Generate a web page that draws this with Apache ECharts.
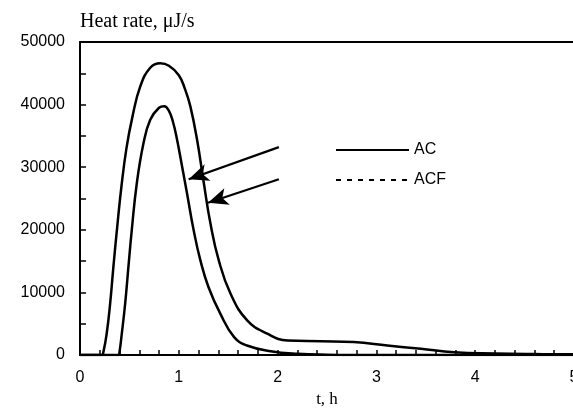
<!DOCTYPE html>
<html>
<head>
<meta charset="utf-8">
<script src="https://cdn.jsdelivr.net/npm/echarts@6/dist/echarts.min.js"></script>
<style>
  html, body { margin: 0; padding: 0; background: #fff; }
  #chart { width: 573px; height: 413px; }
</style>
</head>
<body>
<div id="chart"></div>
<script>
// time (h), heat rate (uJ/s)
const acTime = [0, 0.22, 0.237, 0.27, 0.305, 0.338, 0.38, 0.42, 0.47, 0.53, 0.61, 0.711, 0.812, 0.9, 1.0, 1.06, 1.117, 1.185, 1.252, 1.32, 1.404, 1.523, 1.692, 1.895, 2.1, 2.44, 2.77, 3.11, 3.45, 3.79, 4.2, 4.6, 5];
const acHeat = [0, 0, 500, 3400, 8200, 14080, 21000, 27000, 33000, 38000, 42900, 45880, 46600, 46200, 44700, 42600, 39720, 34380, 27600, 21030, 15150, 9810, 5530, 3400, 2320, 2200, 2060, 1520, 990, 450, 250, 150, 100];

const acfTime = [0, 0.39, 0.40, 0.423, 0.457, 0.49, 0.524, 0.575, 0.643, 0.711, 0.80, 0.853, 0.90, 0.94, 0.98, 1.03, 1.083, 1.15, 1.218, 1.30, 1.42, 1.56, 1.69, 1.93, 2.2, 2.5, 3, 4, 5];
const acfHeat = [0, 0, 500, 3400, 8200, 14080, 19960, 27440, 33860, 37590, 39500, 39750, 39000, 37300, 34600, 30400, 25840, 19960, 15150, 10870, 6600, 2850, 1520, 610, 190, 50, 0, 0, 0];

const xTicks = [0, 1, 2, 3, 4, 5];
const yTicks = [0, 10000, 20000, 30000, 40000, 50000];

const pair = (xs, ys) => xs.map((x, i) => [x, ys[i]]);

const labelFont = { fontFamily: 'Liberation Sans', fontSize: 16, color: '#000' };
const arrowStyle = { color: '#000', width: 2.2, type: 'solid' };

const chart = echarts.init(document.getElementById('chart'));
chart.setOption({
  animation: false,
  grid: { left: 80, right: -1, top: 42, bottom: 58, outerBoundsMode: 'none' },
  legend: {
    orient: 'vertical',
    left: 330,
    top: 137,
    itemWidth: 73,
    itemHeight: 14,
    itemGap: 14,
    textStyle: { fontFamily: 'Liberation Sans', fontSize: 16, color: '#000' },
    data: [
      { name: 'AC', itemStyle: { opacity: 0 }, lineStyle: { type: 'solid', width: 2 } },
      { name: 'ACF', itemStyle: { opacity: 0 }, lineStyle: { type: [5, 6], width: 2 } }
    ]
  },
  xAxis: [{
    type: 'value',
    min: xTicks[0],
    max: xTicks[xTicks.length - 1],
    interval: 1,
    name: 't, h',
    nameLocation: 'middle',
    nameGap: 36,
    nameTextStyle: { fontFamily: 'Liberation Serif', fontSize: 17, color: '#000' },
    axisLine: { lineStyle: { color: '#000', width: 2 } },
    axisTick: { inside: true, length: 5, lineStyle: { color: '#000', width: 1.5 } },
    minorTick: { show: true, splitNumber: 5, length: 5, lineStyle: { color: '#000', width: 1.5 } },
    axisLabel: { ...labelFont, margin: 15, formatter: v => String(v) },
    splitLine: { show: false }
  }, {
    type: 'value',
    position: 'top',
    min: 0,
    max: 5,
    interval: 1,
    axisLine: { show: true, onZero: false, lineStyle: { color: '#000', width: 2 } },
    axisTick: { show: false },
    axisLabel: { show: false },
    splitLine: { show: false }
  }],
  yAxis: {
    type: 'value',
    min: yTicks[0],
    max: yTicks[yTicks.length - 1],
    interval: 10000,
    name: 'Heat rate, μJ/s',
    nameLocation: 'end',
    nameGap: 10,
    nameTextStyle: {
      fontFamily: 'Liberation Serif', fontSize: 20, color: '#000',
      align: 'left', verticalAlign: 'bottom'
    },
    axisLine: { show: true, lineStyle: { color: '#000', width: 2 } },
    axisTick: { inside: true, length: 6, lineStyle: { color: '#000', width: 1.5 } },
    minorTick: { show: true, splitNumber: 2, length: 6, lineStyle: { color: '#000', width: 1.5 } },
    axisLabel: { ...labelFont, margin: 15, formatter: v => String(v) },
    splitLine: { show: false }
  },
  series: [
    {
      name: 'AC',
      type: 'line',
      data: pair(acTime, acHeat),
      smooth: 0.45,
      symbol: 'none',
      lineStyle: { color: '#000', width: 2.5 },
      itemStyle: { color: '#000' },
      markLine: {
        silent: true,
        symbol: ['none', 'arrow'],
        symbolSize: [13, 20],
        label: { show: false },
        lineStyle: arrowStyle,
        data: [
          [{ coord: [2.013, 33210] }, { coord: [1.10, 28080] }],
          [{ coord: [2.013, 28080] }, { coord: [1.296, 24330] }]
        ]
      }
    },
    {
      name: 'ACF',
      type: 'line',
      data: pair(acfTime, acfHeat),
      smooth: 0.45,
      symbol: 'none',
      lineStyle: { color: '#000', width: 2.5 },
      itemStyle: { color: '#000' }
    }
  ]
});
</script>
</body>
</html>
